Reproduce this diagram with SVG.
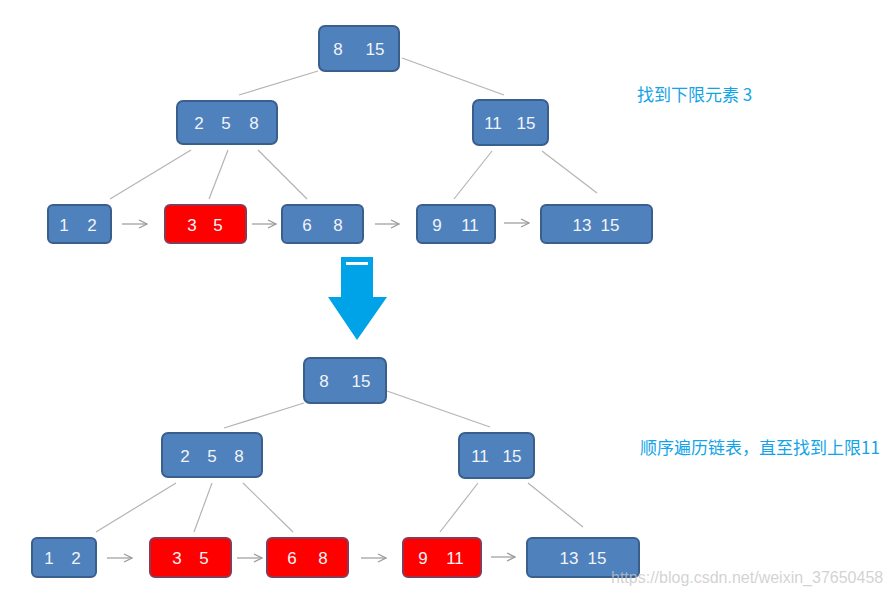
<svg xmlns="http://www.w3.org/2000/svg" width="892" height="596" viewBox="0 0 892 596">
<defs>
<style>
.b{fill:#4f81bd;stroke:#3a5f8d;stroke-width:2}
.r{fill:#ff0000;stroke:#8a3a55;stroke-width:2}
.t{font-family:"Liberation Sans","DejaVu Sans",sans-serif;font-size:17px;fill:#f2f4f8;text-anchor:middle}
.e{stroke:#b4b4b4;stroke-width:1.2;fill:none}
.a{stroke:#9a9a9a;stroke-width:1.2;fill:none}
.n{font-family:"Noto Sans CJK SC","Noto Sans",sans-serif;font-size:17px;fill:#12a4e8}
</style>
<marker id="ah" markerWidth="10" markerHeight="10" refX="9" refY="5" orient="auto" markerUnits="userSpaceOnUse">
<path d="M1,1 L9,5 L1,9" fill="none" stroke="#9a9a9a" stroke-width="1.2"/>
</marker>
</defs>
<rect width="892" height="596" fill="#ffffff"/>

<g id="connectors">
<line class="e" x1="318" y1="71" x2="239" y2="95"/>
<line class="e" x1="402" y1="58" x2="504" y2="95"/>
<line class="e" x1="191" y1="150" x2="110" y2="199"/>
<line class="e" x1="228" y1="150" x2="209" y2="199"/>
<line class="e" x1="258" y1="150" x2="307" y2="199"/>
<line class="e" x1="492" y1="151" x2="454" y2="199"/>
<line class="e" x1="542" y1="151" x2="597" y2="193"/>
<line class="a" x1="122" y1="224" x2="147" y2="224" marker-end="url(#ah)"/>
<line class="a" x1="252" y1="224" x2="276" y2="224" marker-end="url(#ah)"/>
<line class="a" x1="375" y1="224" x2="399" y2="224" marker-end="url(#ah)"/>
<line class="a" x1="504" y1="223" x2="529" y2="223" marker-end="url(#ah)"/>

<line class="e" x1="304" y1="403" x2="224" y2="428"/>
<line class="e" x1="387" y1="391" x2="490" y2="427"/>
<line class="e" x1="176" y1="483" x2="96" y2="532"/>
<line class="e" x1="212" y1="483" x2="194" y2="532"/>
<line class="e" x1="243" y1="483" x2="293" y2="532"/>
<line class="e" x1="478" y1="483" x2="440" y2="532"/>
<line class="e" x1="528" y1="483" x2="583" y2="527"/>
<line class="a" x1="107" y1="558" x2="132" y2="558" marker-end="url(#ah)"/>
<line class="a" x1="237" y1="558" x2="262" y2="558" marker-end="url(#ah)"/>
<line class="a" x1="361" y1="558" x2="386" y2="558" marker-end="url(#ah)"/>
<line class="a" x1="491" y1="557" x2="515" y2="557" marker-end="url(#ah)"/>
</g>

<g id="t-root"><rect class="b" x="319" y="26" width="80" height="45" rx="6"/><text class="t" x="338" y="55">8</text><text class="t" x="375" y="55">15</text></g>
<g id="t-258"><rect class="b" x="177" y="101" width="100" height="43" rx="6"/><text class="t" x="199" y="129">2</text><text class="t" x="226" y="129">5</text><text class="t" x="254" y="129">8</text></g>
<g id="t-1115"><rect class="b" x="473" y="100" width="75" height="45" rx="6"/><text class="t" x="493" y="129">11</text><text class="t" x="526" y="129">15</text></g>
<g id="t-12"><rect class="b" x="48" y="205" width="63" height="38" rx="5"/><text class="t" x="64" y="231">1</text><text class="t" x="92" y="231">2</text></g>
<g id="t-35"><rect class="r" x="165" y="205" width="81" height="38" rx="5"/><text class="t" x="192" y="231">3</text><text class="t" x="218" y="231">5</text></g>
<g id="t-68"><rect class="b" x="282" y="205" width="81" height="38" rx="5"/><text class="t" x="307" y="231">6</text><text class="t" x="338" y="231">8</text></g>
<g id="t-911"><rect class="b" x="417" y="205" width="78" height="38" rx="5"/><text class="t" x="437" y="231">9</text><text class="t" x="470" y="231">11</text></g>
<g id="t-1315"><rect class="b" x="541" y="205" width="111" height="38" rx="5"/><text class="t" x="582" y="231">13</text><text class="t" x="610" y="231">15</text></g>

<text id="label-top" class="n" x="637" y="101">找到下限元素 3</text>

<g id="big-arrow">
<path d="M341,257 L373,257 L373,297 L387,297 L357,340 L328,297 L341,297 Z" fill="#00a3e8"/>
<rect x="346" y="262" width="22" height="3" fill="#ffffff"/>
</g>

<g id="b-root"><rect class="b" x="304" y="358" width="82" height="45" rx="6"/><text class="t" x="324" y="387">8</text><text class="t" x="361" y="387">15</text></g>
<g id="b-258"><rect class="b" x="162" y="433" width="100" height="44" rx="6"/><text class="t" x="185" y="462">2</text><text class="t" x="212" y="462">5</text><text class="t" x="239" y="462">8</text></g>
<g id="b-1115"><rect class="b" x="459" y="433" width="75" height="45" rx="6"/><text class="t" x="480" y="462">11</text><text class="t" x="512" y="462">15</text></g>
<g id="b-12"><rect class="b" x="32" y="538" width="64" height="39" rx="5"/><text class="t" x="49" y="564">1</text><text class="t" x="76" y="564">2</text></g>
<g id="b-35"><rect class="r" x="150" y="538" width="81" height="39" rx="5"/><text class="t" x="177" y="564">3</text><text class="t" x="204" y="564">5</text></g>
<g id="b-68"><rect class="r" x="267" y="538" width="81" height="39" rx="5"/><text class="t" x="292" y="564">6</text><text class="t" x="323" y="564">8</text></g>
<g id="b-911"><rect class="r" x="403" y="538" width="78" height="39" rx="5"/><text class="t" x="423" y="564">9</text><text class="t" x="455" y="564">11</text></g>
<g id="b-1315"><rect class="b" x="527" y="538" width="112" height="39" rx="5"/><text class="t" x="569" y="564">13</text><text class="t" x="597" y="564">15</text></g>

<text id="label-bottom" class="n" x="640" y="454">顺序遍历链表，直至找到上限11</text>

<text id="watermark" x="611" y="583" font-family="Liberation Sans, Arial, sans-serif" font-size="16" fill="#c4c4c4" fill-opacity="0.75">https://blog.csdn.net/weixin_37650458</text>
</svg>
